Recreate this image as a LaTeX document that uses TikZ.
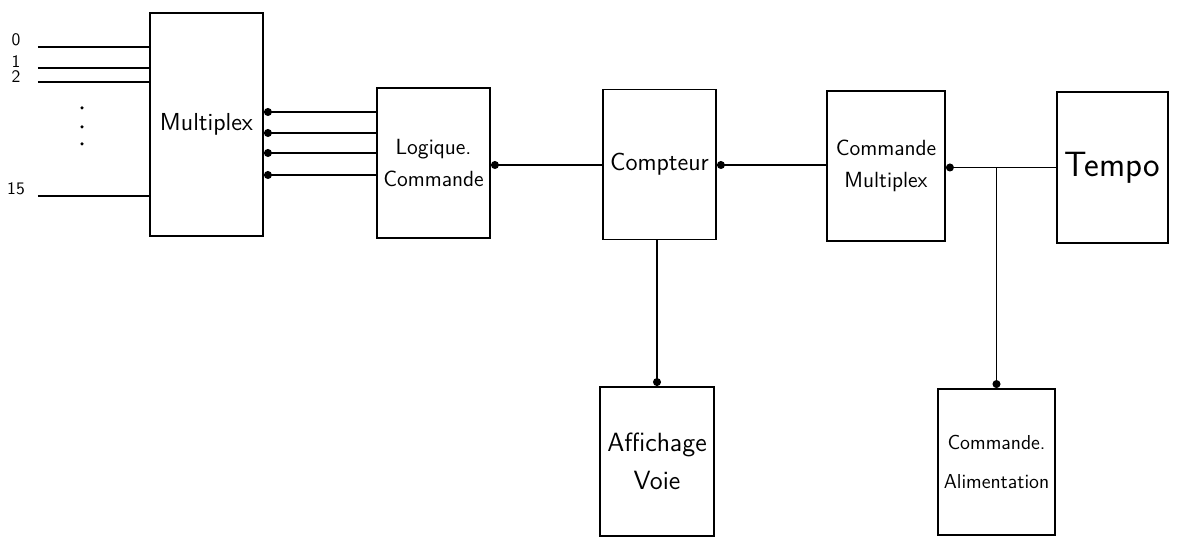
\documentclass[tikz,border=0pt]{standalone}
\usepackage{tikz}
\usetikzlibrary{arrows.meta}
\tikzset{
  blocbox/.style={draw,line width=1.1pt,align=center,inner sep=2pt,font=\sffamily\fontsize{12.5}{18}\selectfont},
  liaison/.style={line width=1.1pt,-{Circle[length=4.5pt]}},
  entree/.style={line width=1.1pt}
}

\begin{document}
\begin{tikzpicture}[x=1cm,y=1cm]
\path[use as bounding box] (0,0) rectangle (23.54,10.78);
\node[blocbox,minimum width=2.26cm,minimum height=4.46cm,font=\sffamily\fontsize{14}{18}\selectfont] (mux) at (4.13,8.29) {Multiplex};
\node[blocbox,minimum width=2.26cm,minimum height=3.00cm] (logic) at (8.67,7.52) {Logique.\\Commande};
\node[blocbox,minimum width=2.26cm,minimum height=3.00cm,font=\sffamily\fontsize{14}{18}\selectfont] (cpt) at (13.19,7.49) {Compteur};
\node[blocbox,minimum width=2.36cm,minimum height=3.00cm] (cmux) at (17.72,7.46) {Commande\\Multiplex};
\node[blocbox,minimum width=2.22cm,minimum height=3.02cm,font=\sffamily\fontsize{20}{24}\selectfont] (tempo) at (22.25,7.43) {Tempo};
\node[blocbox,minimum width=2.28cm,minimum height=2.98cm,font=\sffamily\fontsize{15}{22}\selectfont] (aff) at (13.14,1.55) {Affichage\\Voie};
\node[blocbox,minimum width=2.34cm,minimum height=2.92cm,font=\sffamily\fontsize{11.5}{22}\selectfont] (alim) at (19.93,1.54) {Commande.\\Alimentation};
\foreach \nom/\y/\ly in {0/9.84/9.98, 1/9.42/9.54, 2/9.14/9.24, 15/6.86/7.00} {
  \coordinate (in\nom) at (0.76,\y);
  \node[font=\sffamily\fontsize{10}{12}\selectfont] (lab\nom) at (0.32,\ly) {\nom};
  \draw[entree] (in\nom) -- (mux.west |- in\nom);
}
\foreach \y [count=\i] in {8.62,8.24,7.90}
  \fill (1.64,\y) circle (0.035) coordinate (pt\i);
\foreach \y [count=\i] in {8.54,8.12,7.72,7.28} {
  \coordinate (bus\i) at (logic.west |- 0,\y);
  \draw[liaison] (bus\i) -- (mux.east |- bus\i);
}
\draw[liaison] (cpt.west |- 0,7.48) -- (logic.east |- 0,7.48);
\draw[liaison] (cmux.west |- 0,7.48) -- (cpt.east |- 0,7.48);
\coordinate (jonction) at (alim.north |- tempo.west);
\draw[liaison] (tempo.west) -- (cmux.east |- tempo.west);
\draw[liaison] (jonction) -- (alim.north);
\draw[liaison] (aff.north |- cpt.south) -- (aff.north);
\end{tikzpicture}
\end{document}
